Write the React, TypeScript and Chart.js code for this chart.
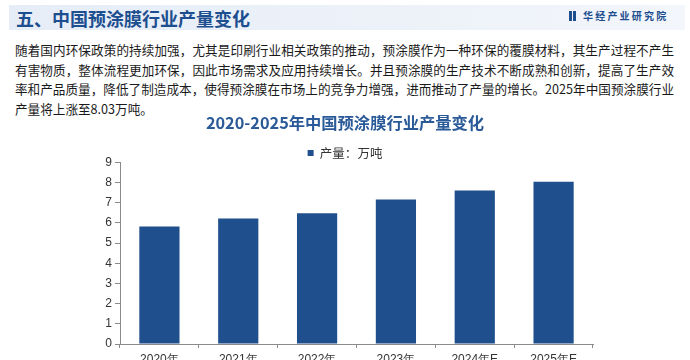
import React, { useEffect, useRef } from "react";
import { Chart, registerables } from "chart.js";

Chart.register(...registerables);

const categories = ["2020年", "2021年", "2022年", "2023年", "2024年E", "2025年E"];
const production = [5.82, 6.22, 6.48, 7.16, 7.6, 8.03];
const yMin = 0;
const yMax = 9;
const yStep = 1;
const seriesLabel = "产量：万吨";
const chartTitle = "2020-2025年中国预涂膜行业产量变化";
const pageTitle = "五、中国预涂膜行业产量变化";
const brand = "华经产业研究院";
const paragraphLines = [
  "随着国内环保政策的持续加强，尤其是印刷行业相关政策的推动，预涂膜作为一种环保的覆膜材料，其生产过程不产生",
  "有害物质，整体流程更加环保，因此市场需求及应用持续增长。并且预涂膜的生产技术不断成熟和创新，提高了生产效",
  "率和产品质量，降低了制造成本，使得预涂膜在市场上的竞争力增强，进而推动了产量的增长。2025年中国预涂膜行业",
  "产量将上涨至8.03万吨。",
];

const BLUE = "#1F4F8C";
const AXIS = "#8a8a8a";
const CJK = "'Noto Sans CJK SC', 'Noto Sans', sans-serif";
const LATIN = "'Liberation Sans', Arial, sans-serif";

const legendFitPatch = {
  id: "legendFitPatch",
  beforeLayout(chart: any) {
    const lg = chart.legend;
    if (lg && !lg.__patched) {
      const orig = lg.fit.bind(lg);
      lg.fit = function () {
        orig();
        this.height -= 7;
      };
      lg.__patched = true;
    }
  },
};

function BarChart() {
  const ref = useRef<HTMLCanvasElement | null>(null);
  useEffect(() => {
    if (!ref.current) return;
    const chart = new Chart(ref.current, {
      type: "bar",
      data: {
        labels: categories,
        datasets: [
          {
            label: seriesLabel,
            data: production,
            backgroundColor: BLUE,
            borderWidth: 0,
            barPercentage: 0.51,
            categoryPercentage: 1,
          },
        ],
      },
      plugins: [legendFitPatch],
      options: {
        animation: false,
        responsive: false,
        devicePixelRatio: 1,
        layout: { padding: { left: 97, right: 97, top: 0, bottom: 0 } },
        plugins: {
          title: {
            display: true,
            text: chartTitle,
            color: "#2B5A98",
            font: { family: CJK, size: 16.3, weight: "bold" },
            padding: { top: 3.5, bottom: 5.7 },
          },
          legend: {
            display: true,
            position: "top",
            labels: {
              boxWidth: 6,
              boxHeight: 6,
              padding: 8,
              color: "#333",
              font: { family: CJK, size: 12.5 },
            },
          },
          tooltip: { enabled: false },
        },
        scales: {
          x: {
            grid: {
              display: true,
              drawOnChartArea: false,
              drawTicks: true,
              tickLength: 4,
              color: AXIS,
              offset: true,
            },
            border: { display: true, color: AXIS },
            ticks: {
              color: "#333",
              font: { family: LATIN, size: 12 },
              padding: 4,
              maxRotation: 0,
              autoSkip: false,
            },
            afterFit: (s: any) => {
              s.height = 16;
            },
          },
          y: {
            min: yMin,
            max: yMax,
            grid: {
              display: true,
              drawOnChartArea: false,
              drawTicks: true,
              tickLength: 5,
              color: AXIS,
            },
            border: { display: true, color: AXIS },
            ticks: {
              stepSize: yStep,
              color: "#333",
              font: { family: LATIN, size: 12 },
              padding: 3,
            },
            afterFit: (s: any) => {
              s.width = 23;
            },
          },
        },
      } as any,
    });
    return () => chart.destroy();
  }, []);
  return (
    <canvas
      ref={ref}
      width={690}
      height={250}
      style={{ position: "absolute", left: 0, top: 110, width: 690, height: 250 }}
    />
  );
}

export default function App() {
  return (
    <div
      style={{
        position: "fixed",
        left: 0,
        top: 0,
        width: 690,
        height: 360,
        overflow: "hidden",
        background: "#fff",
        fontFamily: CJK,
      }}
    >
      <div
        style={{
          position: "absolute",
          left: 9,
          top: 5,
          width: 676,
          height: 25,
          background: "linear-gradient(90deg, #e6edf7 0%, #edf2f9 60%, #f3f6fb 100%)",
        }}
      />
      <div
        style={{
          position: "absolute",
          left: 16,
          top: 9,
          fontSize: 18,
          lineHeight: "18px",
          fontWeight: 700,
          color: "#1D4E8F",
          whiteSpace: "nowrap",
        }}
      >
        {pageTitle}
      </div>
      <div style={{ position: "absolute", left: 569, top: 11, width: 3, height: 10, background: "#1D4E8F" }} />
      <div style={{ position: "absolute", left: 573, top: 11, width: 3, height: 10, background: "#1D4E8F" }} />
      <div
        style={{
          position: "absolute",
          left: 583,
          top: 10,
          fontSize: 10,
          lineHeight: "12px",
          fontWeight: 700,
          letterSpacing: "2.2px",
          color: "#1D4E8F",
          whiteSpace: "nowrap",
        }}
      >
        {brand}
      </div>
      <div
        style={{
          position: "absolute",
          left: 15,
          top: 40,
          width: 659,
          fontSize: 12.6,
          lineHeight: "19.7px",
          color: "#1a1a1a",
        }}
      >
        {paragraphLines.map((line, i) => (
          <div
            key={i}
            style={{
              textAlign: i < paragraphLines.length - 1 ? "justify" : "left",
              textAlignLast: i < paragraphLines.length - 1 ? "justify" : "left",
              whiteSpace: "nowrap",
            } as any}
          >
            {line}
          </div>
        ))}
      </div>
      <BarChart />
    </div>
  );
}
